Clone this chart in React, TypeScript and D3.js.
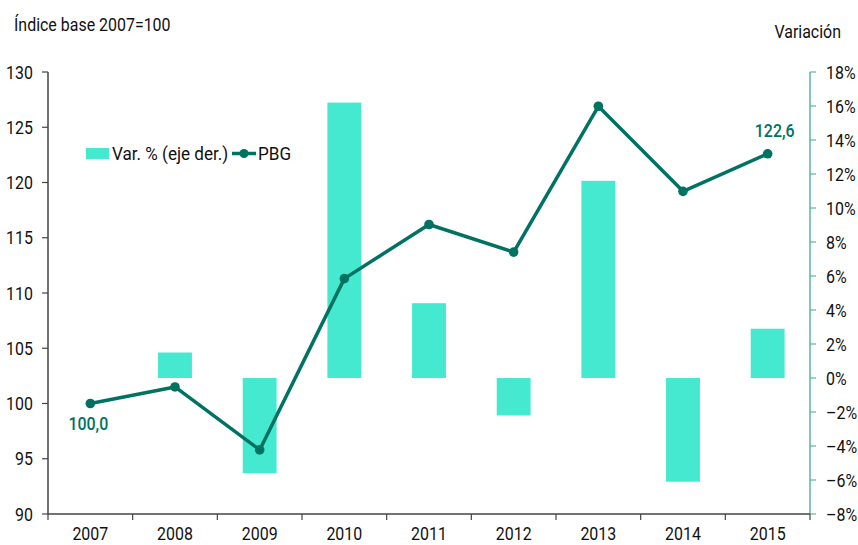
import React from "react";
import * as d3 from "d3";

const years = ["2007", "2008", "2009", "2010", "2011", "2012", "2013", "2014", "2015"];
const pbg = [100, 101.5, 95.8, 111.3, 116.2, 113.7, 126.9, 119.2, 122.6];
const variation: (number | null)[] = [null, 1.5, -5.6, 16.2, 4.4, -2.2, 11.6, -6.1, 2.9];
const leftTicks = [90, 95, 100, 105, 110, 115, 120, 125, 130];
const rightTicks = [-8, -6, -4, -2, 0, 2, 4, 6, 8, 10, 12, 14, 16, 18];

const W = 858, H = 545;
const L = 48, R = 810, T = 72, B = 514;
const FONT = "Roboto, 'Noto Sans', sans-serif";
const SX = 0.84;
const BAR = "#45E9D0";
const LINE = "#007262";
const RAXIS = "#5DB3A6";

type TProps = {
  x: number;
  y: number;
  anchor?: "start" | "middle" | "end";
  size?: number;
  fill?: string;
  weight?: string;
  dy?: string;
  sx?: number;
  children: React.ReactNode;
};

function Txt({ x, y, anchor = "start", size = 19, fill = "#111", weight = "normal", dy, sx = SX, children }: TProps) {
  return (
    <g transform={`translate(${x},${y}) scale(${sx},1)`}>
      <text x={0} y={0} dy={dy} fontSize={size} textAnchor={anchor} fill={fill} fontWeight={weight}>
        {children}
      </text>
    </g>
  );
}

export default function App() {
  const x = d3.scaleBand<string>().domain(years).range([L, R]).paddingInner(0).paddingOuter(0);
  const yL = d3.scaleLinear().domain([90, 130]).range([B, T]);
  const yR = d3.scaleLinear().domain([-8, 18]).range([B, T]);
  const bw = x.bandwidth() * 0.4;
  const cx = (y: string) => (x(y) as number) + x.bandwidth() / 2;
  const line = d3.line<number>().x((_, i) => cx(years[i])).y((d) => yL(d));
  const boundaries = years.map((y) => x(y) as number).concat([R]);

  return (
    <div style={{ position: "absolute", left: 0, top: 0 }}>
      <svg width={W} height={H} style={{ display: "block", fontFamily: FONT }}>
        <rect width={W} height={H} fill="#fff" />
        <Txt x={14} y={31} size={19}>Índice base 2007=100</Txt>
        <Txt x={841} y={38} size={19} anchor="end">Variación</Txt>

        {variation.map((v, i) =>
          v === null ? null : (
            <rect
              key={years[i]}
              x={cx(years[i]) - bw / 2}
              width={bw}
              y={Math.min(yR(v), yR(0))}
              height={Math.abs(yR(v) - yR(0))}
              fill={BAR}
            />
          )
        )}

        {/* left axis */}
        <line x1={L} x2={L} y1={T} y2={B} stroke="#444" strokeWidth={1.5} />
        {leftTicks.map((t) => (
          <g key={t}>
            <line x1={L - 6} x2={L} y1={yL(t)} y2={yL(t)} stroke="#444" strokeWidth={1.2} />
            <Txt x={33} y={yL(t)} dy="0.35em" anchor="end">{t}</Txt>
          </g>
        ))}

        {/* right axis */}
        <line x1={R} x2={R} y1={T} y2={B} stroke={RAXIS} strokeWidth={1.5} />
        {rightTicks.map((t) => (
          <g key={t}>
            <line x1={R} x2={R + 6} y1={yR(t)} y2={yR(t)} stroke={RAXIS} strokeWidth={1.2} />
            <Txt x={826} y={yR(t)} dy="0.35em">{(t < 0 ? "\u2013" + Math.abs(t) : String(t)) + "%"}</Txt>
          </g>
        ))}

        {/* bottom axis */}
        <line x1={L} x2={R} y1={B} y2={B} stroke="#444" strokeWidth={1.5} />
        {boundaries.map((b, i) => (
          <line key={i} x1={b} x2={b} y1={B} y2={B + 6} stroke="#444" strokeWidth={1.2} />
        ))}
        {years.map((y) => (
          <Txt key={y} x={cx(y)} y={540} anchor="middle">{y}</Txt>
        ))}

        <path d={line(pbg) || ""} fill="none" stroke={LINE} strokeWidth={3.5} strokeLinejoin="round" />
        {pbg.map((v, i) => (
          <circle key={years[i]} cx={cx(years[i])} cy={yL(v)} r={4.8} fill={LINE} />
        ))}

        <Txt x={cx(years[0]) - 2} y={yL(pbg[0]) + 26} weight="500" anchor="middle" fill={LINE}>
          {pbg[0].toFixed(1).replace(".", ",")}
        </Txt>
        <Txt x={cx(years[8]) + 7} y={yL(pbg[8]) - 17} weight="500" anchor="middle" fill={LINE}>
          {pbg[8].toFixed(1).replace(".", ",")}
        </Txt>

        {/* legend */}
        <rect x={86} y={148} width={23} height={11} fill={BAR} />
        <Txt x={112} y={153.5} dy="0.35em" sx={0.9}>Var. % (eje der.)</Txt>
        <line x1={232} x2={256} y1={153.5} y2={153.5} stroke={LINE} strokeWidth={3.5} />
        <circle cx={244} cy={153.5} r={4.5} fill={LINE} />
        <Txt x={258} y={153.5} dy="0.35em" sx={0.9}>PBG</Txt>
      </svg>
    </div>
  );
}
